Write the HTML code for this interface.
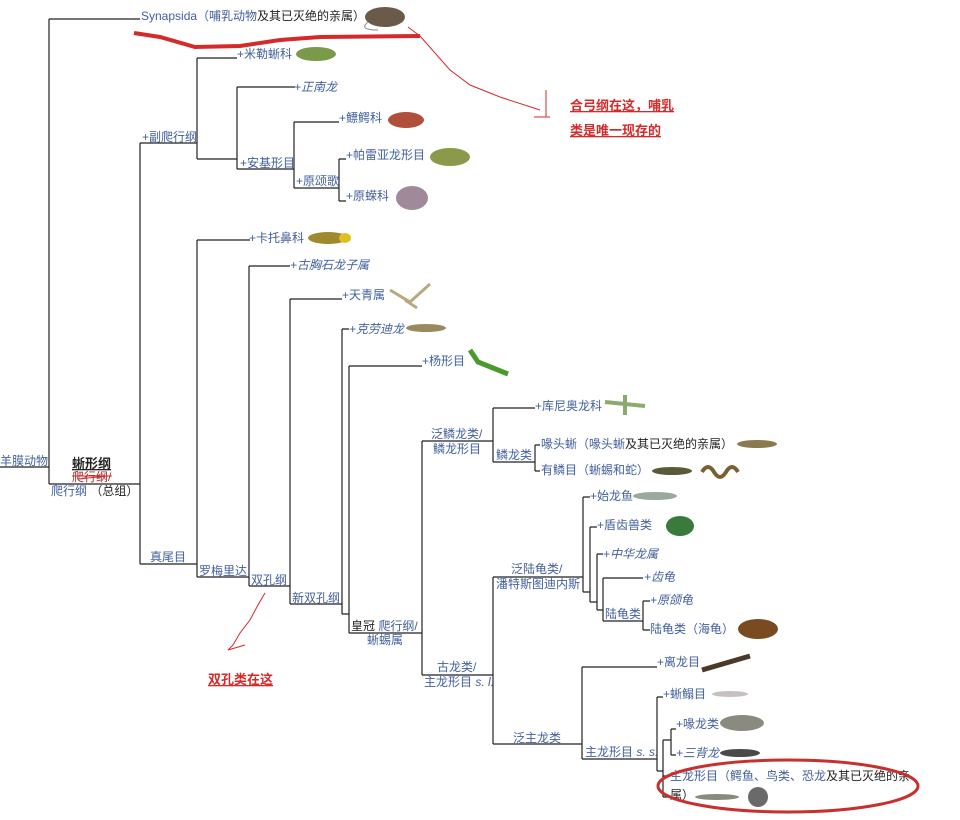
<!DOCTYPE html>
<html><head><meta charset="utf-8"><style>
html,body{margin:0;padding:0;background:#fff;width:960px;height:820px;overflow:hidden}
svg{display:block}
text{font-family:"Liberation Sans","Noto Sans CJK SC",sans-serif;font-size:12px;fill:#42609c}
.k{fill:#222}.i{font-style:italic}
.r{fill:#d42a2a;font-weight:bold;font-size:13px;text-decoration:underline}
</style></head><body>
<svg width="960" height="820" viewBox="0 0 960 820" xmlns="http://www.w3.org/2000/svg">
<g stroke="#222" stroke-width="1.2" fill="none">
<path d="M0 467H49M49 19V484M49 19H140M49 484H140"/>
<path d="M140 143V564M140 143H197M140 564H197"/>
<path d="M197 58V159M197 58H237M197 159H237"/>
<path d="M237 87V169M237 87H295M237 169H294"/>
<path d="M294 122V188M294 122H339M294 188H339"/>
<path d="M339 159V201M339 159H346M339 201H346"/>
<path d="M197 240V577M197 240H250M197 577H249"/>
<path d="M249 266V586M249 266H290M249 586H290"/>
<path d="M290 299V604M290 299H342M290 604H342"/>
<path d="M342 329V614M342 329H349M342 614H349"/>
<path d="M349 366V633M349 366H422M349 633H422"/>
<path d="M422 441V675M422 441H493M422 675H493"/>
<path d="M493 408V462M493 408H535M493 462H535"/>
<path d="M535 445V471M535 445H540M535 471H540"/>
<path d="M493 577V744M493 577H583M493 744H582"/>
<path d="M583 497V592M583 497H590M583 592H590"/>
<path d="M590 527V602M590 527H597M590 602H597"/>
<path d="M597 554V610M597 554H603M597 610H603"/>
<path d="M603 578V621M603 578H643M603 621H643"/>
<path d="M643 601V630M643 601H650M643 630H650"/>
<path d="M582 667V759M582 667H657M582 759H657"/>
<path d="M657 697V771M657 697H663M657 771H663"/>
<path d="M663 740V797M663 740H671M663 776H668M663 797H668"/>
<path d="M671 729V755M671 729H676M671 755H676"/>
</g>
<g>
<ellipse cx="385" cy="17" rx="20" ry="10" fill="#6b5a4a"/><path d="M368 22q-10 8 10 8" stroke="#888" fill="none"/>
<ellipse cx="316" cy="54" rx="20" ry="7" fill="#7a9a4a"/>
<ellipse cx="406" cy="120" rx="18" ry="8" fill="#b0503a"/>
<ellipse cx="450" cy="157" rx="20" ry="9" fill="#8a9a4a"/>
<ellipse cx="412" cy="198" rx="16" ry="12" fill="#a08a9a"/>
<ellipse cx="328" cy="238" rx="20" ry="6" fill="#a08a30"/><ellipse cx="345" cy="238" rx="6" ry="5" fill="#e0c020"/>
<path d="M390 290l20 12 20-18M405 300l12 8" stroke="#b8aa80" stroke-width="3" fill="none"/>
<ellipse cx="426" cy="328" rx="20" ry="4" fill="#9a8a60"/>
<path d="M470 350l8 12 30 12" stroke="#4a9a30" stroke-width="5" fill="none"/>
<path d="M625 395v20M605 402l40 4" stroke="#8aaa70" stroke-width="4" fill="none"/>
<ellipse cx="757" cy="444" rx="20" ry="4" fill="#8a7a50"/>
<ellipse cx="672" cy="471" rx="20" ry="4" fill="#5a5a3a"/>
<path d="M702 472q6-10 12 0t12 0t12 0" stroke="#7a6030" stroke-width="4" fill="none"/>
<ellipse cx="655" cy="496" rx="22" ry="4" fill="#9aaa9a"/>
<ellipse cx="680" cy="526" rx="14" ry="10" fill="#3a7a3a"/>
<ellipse cx="758" cy="629" rx="20" ry="10" fill="#7a4a20"/>
<path d="M702 670l48-14" stroke="#4a3a2a" stroke-width="5"/>
<ellipse cx="730" cy="694" rx="18" ry="3" fill="#c8c0c0"/>
<ellipse cx="742" cy="723" rx="22" ry="8" fill="#8a8a80"/>
<ellipse cx="740" cy="753" rx="20" ry="4" fill="#4a4a4a"/>
<ellipse cx="717" cy="797" rx="22" ry="3" fill="#8a8a7a"/>
<ellipse cx="758" cy="797" rx="10" ry="10" fill="#6a6a6a"/>
</g>
<text x="141" y="20">Synapsida（哺乳动物<tspan class="k">及其已灭绝的亲属）</tspan></text>
<text x="237" y="58">+米勒蜥科</text>
<text x="294" y="91" class="i">+正南龙</text>
<text x="142" y="141">+副爬行纲</text>
<text x="339" y="122">+鳔鳄科</text>
<text x="240" y="167">+安基形目</text>
<text x="346" y="159">+帕雷亚龙形目</text>
<text x="296" y="185">+原颂歌</text>
<text x="346" y="200">+原蝾科</text>
<text x="249" y="242">+卡托鼻科</text>
<text x="290" y="269" class="i">+古胸石龙子属</text>
<text x="342" y="299">+天青属</text>
<text x="349" y="333" class="i">+克劳迪龙</text>
<text x="422" y="365">+杨形目</text>
<text x="535" y="410">+库尼奥龙科</text>
<text x="431" y="438">泛鳞龙类/</text>
<text x="433" y="453">鳞龙形目</text>
<text x="496" y="459">鳞龙类</text>
<text x="541" y="448">喙头蜥（喙头蜥<tspan class="k">及其已灭绝的亲属）</tspan></text>
<text x="541" y="474">有鳞目（蜥蜴和蛇）</text>
<text x="590" y="500">+始龙鱼</text>
<text x="597" y="529">+盾齿兽类</text>
<text x="603" y="558" class="i">+中华龙属</text>
<text x="644" y="581" class="i">+齿龟</text>
<text x="650" y="604" class="i">+原颌龟</text>
<text x="605" y="618">陆龟类</text>
<text x="650" y="633">陆龟类（海龟）</text>
<text x="511" y="573">泛陆龟类/</text>
<text x="496" y="588">潘特斯图迪内斯</text>
<text x="437" y="671">古龙类/</text>
<text x="424" y="686">主龙形目 <tspan class="i">s. l.</tspan></text>
<text x="657" y="666">+离龙目</text>
<text x="663" y="698">+蜥鳎目</text>
<text x="513" y="742">泛主龙类</text>
<text x="585" y="756">主龙形目 <tspan class="i">s. s.</tspan></text>
<text x="676" y="728">+喙龙类</text>
<text x="676" y="757" class="i">+三背龙</text>
<text x="670" y="780">主龙形目（鳄鱼、鸟类、恐龙<tspan class="k">及其已灭绝的亲</tspan></text>
<text x="670" y="799" class="k">属）</text>
<text x="150" y="561">真尾目</text>
<text x="199" y="575">罗梅里达</text>
<text x="251" y="584">双孔纲</text>
<text x="292" y="602">新双孔纲</text>
<text x="351" y="630"><tspan class="k">皇冠</tspan> 爬行纲/</text>
<text x="367" y="644">蜥蜴属</text>
<text x="0" y="465">羊膜动物</text>
<text x="72" y="468" class="k" style="font-weight:bold;font-size:13px;text-decoration:underline">蜥形纲</text>
<text x="72" y="481" style="fill:#a03030">爬行纲/</text>
<text x="51" y="495">爬行纲 <tspan class="k">（总组）</tspan></text>
<g stroke="#d42a2a" fill="none">
<path d="M134 33L160 37L195 47L240 46L280 40L320 37L420 36" stroke-width="4"/>
<path d="M408 27L420 36L450 70L470 85L500 97L540 110" stroke-width="1"/>
<path d="M546 90V117M534 117H550" stroke-width="1"/>
<path d="M72 476H112M78 479L108 476" stroke-width="1"/>
<path d="M265 593L258 605L250 620L240 633L233 645L228 650L245 645" stroke-width="1"/>
<ellipse cx="788" cy="786" rx="130" ry="26" stroke-width="3" stroke="#c83030"/>
</g>
<text x="570" y="110" class="r">合弓纲在这，哺乳</text>
<text x="570" y="135" class="r">类是唯一现存的</text>
<text x="208" y="684" class="r">双孔类在这</text>
</svg>
</body></html>
